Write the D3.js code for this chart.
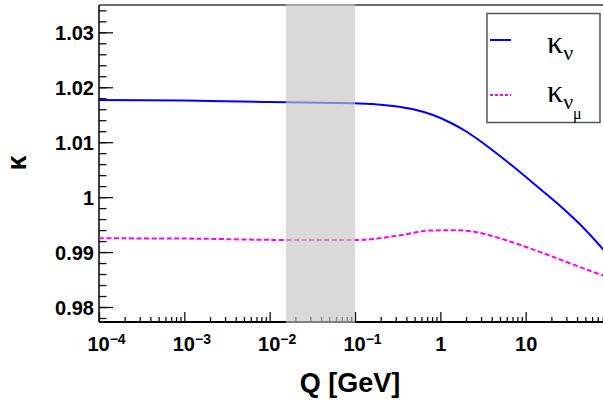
<!DOCTYPE html>
<html>

<head>
    <title>kappa vs Q</title>
    <script type="text/javascript" src="https://d3js.org/d3.v7.min.js"></script>
    <style>
        body { margin: 0; background: #fff; }
        svg { display: block; }
    </style>
</head>

<body>
    <svg id="chart" width="603" height="402"></svg>

    <script>
        // kappa_nu (solid blue)
        const qNu = [1e-4, 1e-3, 2e-3, 1e-2, 0.1, 0.16, 0.28, 0.48, 0.82, 1.3, 2.06, 2.93, 3.84, 6.58, 14.8, 25.4, 43.5, 78.2, 85];
        const kappaNu = [1.01767, 1.01758, 1.01749, 1.01731, 1.01707, 1.01695, 1.01658, 1.01598, 1.01494, 1.01358, 1.01185, 1.01021, 1.00885, 1.00602, 1.00147, 0.99838, 0.99501, 0.99074, 0.99006];

        // kappa_nu_mu (dotted magenta)
        const qNuMu = [1e-4, 1e-3, 2e-3, 1e-2, 0.067, 0.11, 0.163, 0.256, 0.41, 0.63, 1.0, 1.57, 2.4, 3.84, 6.58, 11.2, 19.0, 32.4, 55.5, 85];
        const kappaNuMu = [0.9925, 0.99246, 0.9924, 0.99222, 0.99219, 0.99219, 0.99237, 0.99279, 0.99328, 0.99383, 0.99396, 0.99396, 0.99374, 0.99301, 0.99192, 0.99068, 0.98937, 0.98801, 0.98664, 0.98564];

        // shaded Q band
        const bandQ = [0.0156, 0.1];

        const xMajor = [1e-4, 1e-3, 1e-2, 1e-1, 1, 10];
        const yMajor = [0.98, 0.99, 1.00, 1.01, 1.02, 1.03];

        var margin = { top: 5, left: 99, bottom: 322 },
            xRight = 605;

        const svg = d3.select('#chart');
        const font = '"Liberation Sans", Arial, Helvetica, sans-serif';

        const x = d3.scaleLog().domain([1e-4, 85]).range([margin.left, xRight]);
        const y = d3.scaleLinear().domain([0.97727, 1.03497]).range([margin.bottom, margin.top]);

        // minor ticks
        const xMinor = [];
        xMajor.forEach(d => { for (let k = 2; k <= 9; k++) if (d * k <= 85) xMinor.push(d * k); });
        const yMinor = d3.range(0, 29).map(i => +(0.978 + i * 0.002).toFixed(3));

        // frame (top and right)
        svg.append('line')
            .attr('x1', margin.left).attr('x2', xRight)
            .attr('y1', margin.top).attr('y2', margin.top)
            .attr('stroke', '#6e6e6e').attr('stroke-width', 2);
        svg.append('line')
            .attr('x1', xRight).attr('x2', xRight)
            .attr('y1', margin.top).attr('y2', margin.bottom)
            .attr('stroke', '#6e6e6e').attr('stroke-width', 2);

        // x axis ticks (inward)
        function styleAxis(g) {
            g.select('.domain').remove();
            g.selectAll('.tick line').attr('stroke', '#111').attr('stroke-width', 1.3);
        }
        svg.append('g')
            .attr('transform', 'translate(0,' + margin.bottom + ')')
            .call(d3.axisTop(x).tickValues(xMinor).tickSize(5).tickFormat(''))
            .call(styleAxis);
        svg.append('g')
            .attr('transform', 'translate(0,' + margin.bottom + ')')
            .call(d3.axisTop(x).tickValues(xMajor).tickSize(10).tickFormat(''))
            .call(styleAxis);

        // x labels
        const xLab = svg.append('g')
            .attr('transform', 'translate(0,' + margin.bottom + ')')
            .call(d3.axisBottom(x).tickValues(xMajor).tickSize(0).tickFormat(''));
        xLab.select('.domain').remove();
        xLab.selectAll('.tick text')
            .attr('y', 29).attr('dy', 0)
            .attr('font-family', font).attr('font-weight', 'bold').attr('font-size', 20)
            .attr('fill', '#000')
            .each(function (d) {
                const t = d3.select(this);
                const e = Math.round(Math.log10(d));
                if (e >= 0) { t.text(d3.format('d')(d)); return; }
                t.attr('dx', 7);
                t.append('tspan').text('10');
                t.append('tspan').attr('dy', -7).attr('font-size', 14).text('\u2212' + (-e));
            });

        // y axis ticks (inward)
        svg.append('g')
            .attr('transform', 'translate(' + margin.left + ',0)')
            .call(d3.axisRight(y).tickValues(yMinor).tickSize(7.5).tickFormat(''))
            .call(styleAxis);
        svg.append('g')
            .attr('transform', 'translate(' + margin.left + ',0)')
            .call(d3.axisRight(y).tickValues(yMajor).tickSize(14).tickFormat(''))
            .call(styleAxis);

        const yLab = svg.append('g')
            .attr('transform', 'translate(' + margin.left + ',0)')
            .call(d3.axisLeft(y).tickValues(yMajor).tickSize(0).tickPadding(5)
                .tickFormat(d => String(+d.toFixed(2))));
        yLab.select('.domain').remove();
        yLab.selectAll('.tick text')
            .attr('font-family', font).attr('font-weight', 'bold').attr('font-size', 20)
            .attr('fill', '#000').attr('dy', '0.36em');

        // axis lines
        svg.append('line')
            .attr('x1', margin.left).attr('x2', margin.left)
            .attr('y1', margin.top).attr('y2', margin.bottom)
            .attr('stroke', '#000').attr('stroke-width', 1.5);
        svg.append('line')
            .attr('x1', margin.left).attr('x2', xRight)
            .attr('y1', margin.bottom).attr('y2', margin.bottom)
            .attr('stroke', '#000').attr('stroke-width', 2);

        // curves
        const line = d3.line().x(d => x(d[0])).y(d => y(d[1])).curve(d3.curveCatmullRom.alpha(0.5));

        svg.append('path')
            .datum(d3.zip(qNu, kappaNu))
            .attr('d', line)
            .attr('fill', 'none').attr('stroke', '#0000ff').attr('stroke-width', 2);

        svg.append('path')
            .datum(d3.zip(qNuMu, kappaNuMu))
            .attr('d', line)
            .attr('fill', 'none').attr('stroke', '#ff00ff').attr('stroke-width', 2)
            .attr('stroke-dasharray', '5,2.5');

        // shaded band, drawn on top and see-through
        svg.append('rect')
            .attr('x', Math.round(x(bandQ[0])))
            .attr('y', margin.top - 1)
            .attr('width', Math.round(x(bandQ[1])) - Math.round(x(bandQ[0])))
            .attr('height', margin.bottom - margin.top + 2)
            .attr('fill', '#c4c4c4').attr('fill-opacity', 0.65)
            .attr('shape-rendering', 'crispEdges');

        // axis titles
        svg.append('text')
            .attr('x', 350).attr('y', 392)
            .attr('text-anchor', 'middle')
            .attr('font-family', font).attr('font-weight', 'bold').attr('font-size', 27)
            .text('Q [GeV]');

        svg.append('text')
            .attr('transform', 'translate(26,163) rotate(-90)')
            .attr('text-anchor', 'middle')
            .attr('font-family', font).attr('font-weight', 'bold').attr('font-size', 27)
            .text('\u03ba');

        // legend
        const leg = svg.append('g');
        leg.append('rect')
            .attr('x', 487).attr('y', 13.5).attr('width', 113).attr('height', 109)
            .attr('fill', '#fff').attr('stroke', '#555').attr('stroke-width', 1.5);
        leg.append('line')
            .attr('x1', 490).attr('x2', 511).attr('y1', 40).attr('y2', 40)
            .attr('stroke', '#0000ff').attr('stroke-width', 2);
        leg.append('line')
            .attr('x1', 490).attr('x2', 511).attr('y1', 95).attr('y2', 95)
            .attr('stroke', '#ff00ff').attr('stroke-width', 2)
            .attr('stroke-dasharray', '3,2');

        const serif = '"Liberation Serif", "Times New Roman", serif';
        const t1 = leg.append('text')
            .attr('x', 547).attr('y', 53)
            .attr('font-family', serif).attr('font-size', 32);
        t1.append('tspan').text('\u03ba');
        t1.append('tspan').attr('dy', 7).attr('font-size', 22).text('\u03bd');

        const t2 = leg.append('text')
            .attr('x', 547).attr('y', 101.5)
            .attr('font-family', serif).attr('font-size', 32);
        t2.append('tspan').text('\u03ba');
        t2.append('tspan').attr('dy', 7.5).attr('font-size', 22).text('\u03bd');
        t2.append('tspan').attr('dy', 10).attr('font-size', 16).text('\u03bc');
    </script>
</body>

</html>
